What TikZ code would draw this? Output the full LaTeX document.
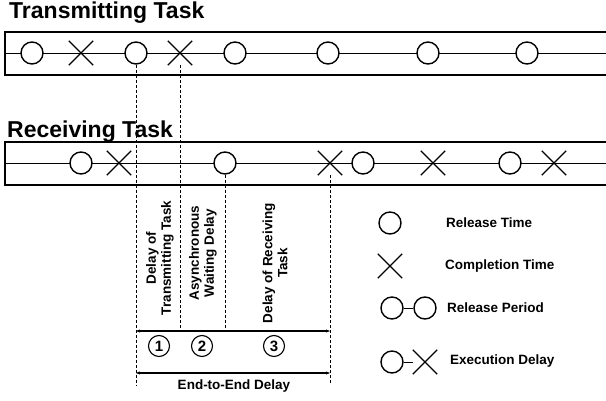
\documentclass[tikz,border=0pt]{standalone}
\usepackage{fontspec}
\setmainfont{Liberation Sans}
\usetikzlibrary{shapes.misc,arrows.meta}
\begin{document}
\begin{tikzpicture}[x=1pt,y=-1pt,
 rel/.style={circle,draw,fill=white,minimum size=22pt,inner sep=0pt,line width=1.4pt},
 cmp/.style={cross out,draw,minimum size=23pt,inner sep=0pt,line width=1.4pt},
 boxline/.style={line width=1.9pt},
 midline/.style={line width=0.8pt},
 guide/.style={line width=0.6pt,dash pattern=on 3pt off 2pt},
 ttl/.style={font=\fontsize{23}{27}\selectfont\bfseries,anchor=base west,inner sep=0pt},
 lbl/.style={font=\fontsize{13.5}{15}\selectfont\bfseries,inner sep=0pt},
 rot/.style={lbl,rotate=90,align=center},
 num/.style={circle,draw,line width=1.1pt,minimum size=21pt,inner sep=0pt,font=\fontsize{15}{17}\selectfont\bfseries},
 spanline/.style={line width=1.5pt,{Stealth[length=4pt,width=3pt]}-{Stealth[length=4pt,width=3pt]}}
]
\useasboundingbox (0,0) rectangle (606,401);

% Titles
\node[ttl] (ttx) at (9,19) {Transmitting Task};
\node[ttl] (trx) at (7,138) {Receiving Task};

% Transmitting box
\coordinate (txtl) at (5,32);
\coordinate (txtr) at (606,32);
\coordinate (txbl) at (5,75);
\coordinate (txbr) at (606,75);
\coordinate (txml) at (5,53);
\coordinate (txmr) at (606,53);
\draw[boxline] (txtr) -- (txtl) -- (txbl) -- (txbr);
\draw[midline] (txml) -- (txmr);

% Receiving box
\coordinate (rxtl) at (5,142);
\coordinate (rxtr) at (606,142);
\coordinate (rxbl) at (5,185);
\coordinate (rxbr) at (606,185);
\coordinate (rxml) at (5,163);
\coordinate (rxmr) at (606,163);
\draw[boxline] (rxtr) -- (rxtl) -- (rxbl) -- (rxbr);
\draw[midline] (rxml) -- (rxmr);

% Transmitting events
\node[rel] (t1) at (32,53) {};
\node[cmp] (t2) at (81,53) {};
\node[rel] (t3) at (136,53) {};
\node[cmp] (t4) at (180,53) {};
\node[rel] (t5) at (235,53) {};
\node[rel] (t6) at (328,53) {};
\node[rel] (t7) at (428,53) {};
\node[rel] (t8) at (527,53) {};

% Receiving events
\node[rel] (r1) at (81,163) {};
\node[cmp] (r2) at (119,163) {};
\node[rel] (r3) at (225,163) {};
\node[cmp] (r4) at (330,163) {};
\node[rel] (r5) at (363,163) {};
\node[cmp] (r6) at (433,163) {};
\node[rel] (r7) at (510,163) {};
\node[cmp] (r8) at (554,163) {};

% Guide lines
\coordinate (g1) at (136,385);
\coordinate (g2) at (180,331);
\coordinate (g3) at (225,331);
\coordinate (g4) at (330,385);
\draw[guide] (t3.south) -- (g1);
\draw[guide] (t4.south) -- (g2);
\draw[guide] (r3.south) -- (g3);
\draw[guide] (r4.south) -- (g4);

% Spans
\coordinate (s1a) at (136,331);
\coordinate (s1b) at (330,331);
\coordinate (s2a) at (136,373);
\coordinate (s2b) at (330,373);
\draw[spanline] (s1a) -- (s1b);
\draw[spanline] (s2a) -- (s2b);

% Rotated labels
\node[rot] (d1) at (160,258) {Delay of\\Transmitting Task};
\node[rot] (d2) at (203,253) {Asynchronous\\Waiting Delay};
\node[rot] (d3) at (275,263) {Delay of Receiving\\Task};

% Numbers
\node[num] (n1) at (159,346) {1};
\node[num] (n2) at (202,346) {2};
\node[num] (n3) at (274,346) {3};

\node[lbl] (e2e) at (234,386) {End-to-End Delay};

% Legend
\node[rel] (l1) at (390,223) {};
\node[lbl,anchor=west] (l1t) at (446,223) {Release Time};
\node[cmp] (l2) at (390,266) {};
\node[lbl,anchor=west] (l2t) at (445,266) {Completion Time};
\node[rel] (l3a) at (392,308) {};
\node[rel] (l3b) at (425,308) {};
\draw[midline] (l3a) -- (l3b);
\node[lbl,anchor=west] (l3t) at (447,308) {Release Period};
\node[rel] (l4a) at (392,362) {};
\node[cmp] (l4b) at (425,362) {};
\draw[midline] (l4a) -- (l4b);
\node[lbl,anchor=west] (l4t) at (450,361) {Execution Delay};
\end{tikzpicture}
\end{document}
